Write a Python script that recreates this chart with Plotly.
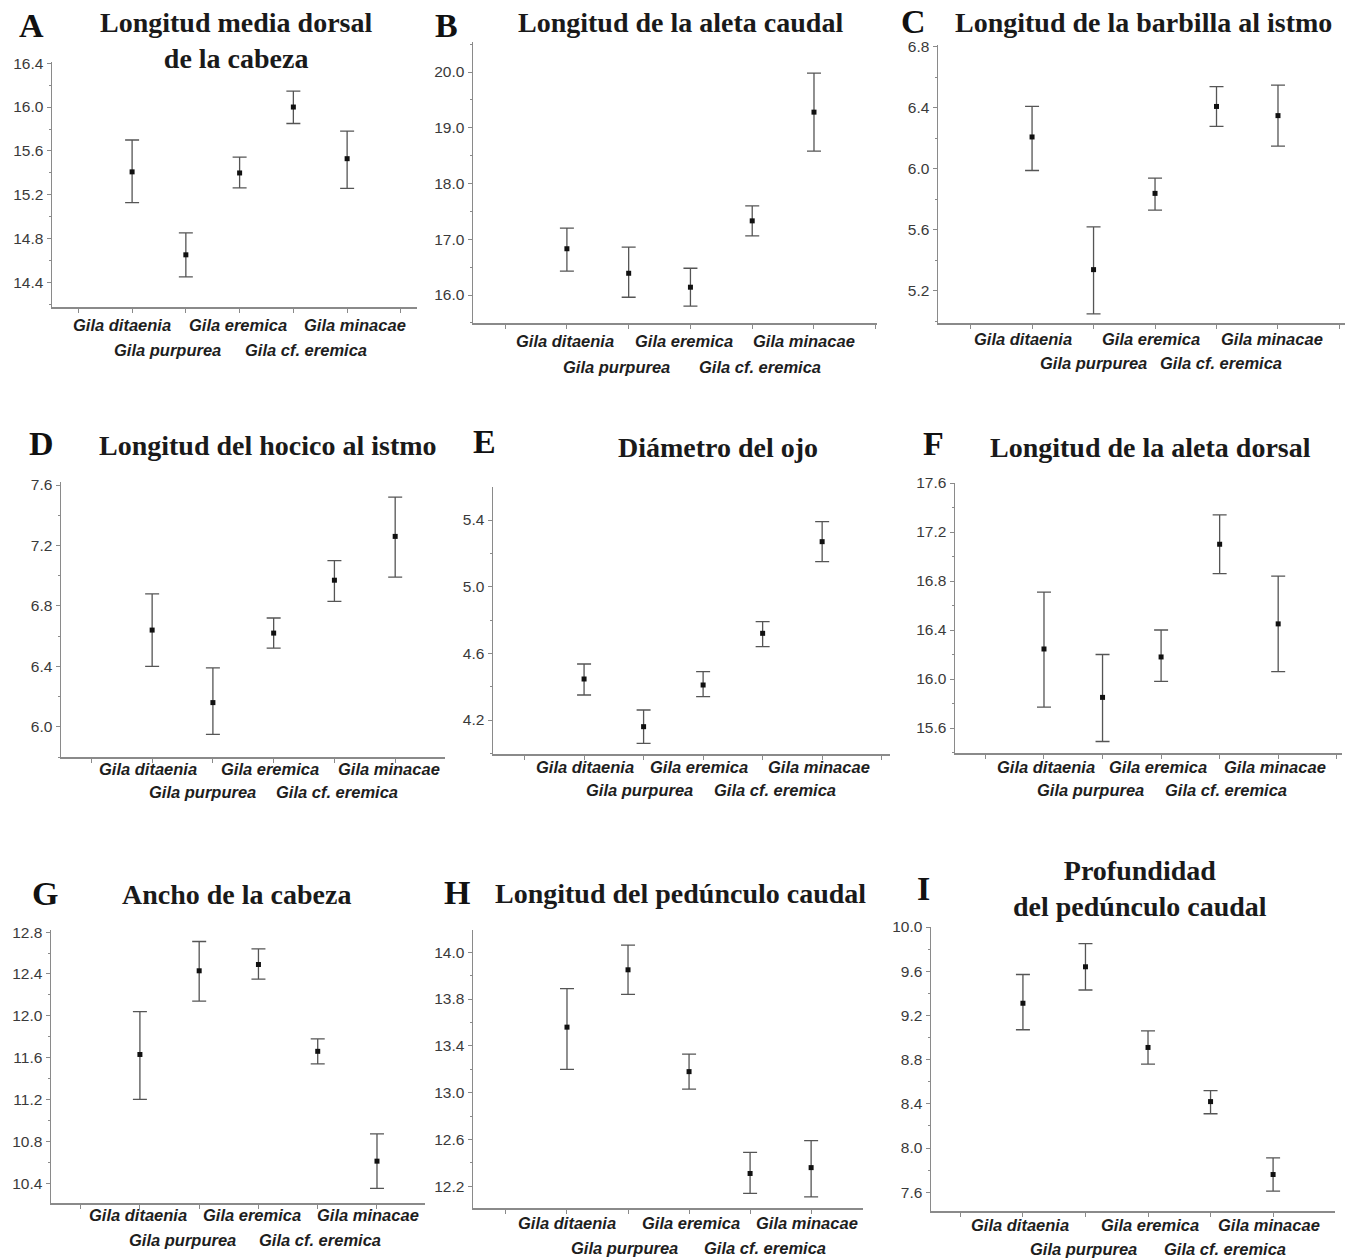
import plotly.graph_objects as go

W, H = 1352, 1260
OFF = 0  # page body margin is removed by the post script

categories = ["Gila ditaenia", "Gila purpurea", "Gila eremica", "Gila cf. eremica", "Gila minacae"]

# Panel data: means, upper and lower limits of the intervals
A_mean = [15.41, 14.655, 15.40, 16.00, 15.53]
A_upper = [15.70, 14.855, 15.545, 16.145, 15.78]
A_lower = [15.13, 14.455, 15.265, 15.85, 15.26]

B_mean = [16.83, 16.39, 16.14, 17.33, 19.28]
B_upper = [17.20, 16.86, 16.48, 17.60, 19.98]
B_lower = [16.43, 15.96, 15.80, 17.06, 18.58]

C_mean = [6.21, 5.34, 5.84, 6.41, 6.35]
C_upper = [6.41, 5.62, 5.94, 6.54, 6.55]
C_lower = [5.99, 5.05, 5.73, 6.28, 6.15]

D_mean = [6.64, 6.16, 6.62, 6.97, 7.26]
D_upper = [6.88, 6.39, 6.72, 7.10, 7.52]
D_lower = [6.40, 5.95, 6.52, 6.83, 6.99]

E_mean = [4.446, 4.16, 4.41, 4.72, 5.27]
E_upper = [4.536, 4.26, 4.49, 4.79, 5.39]
E_lower = [4.35, 4.06, 4.34, 4.64, 5.15]

F_mean = [16.245, 15.85, 16.18, 17.10, 16.45]
F_upper = [16.71, 16.20, 16.40, 17.34, 16.84]
F_lower = [15.77, 15.49, 15.98, 16.86, 16.06]

G_mean = [11.63, 12.43, 12.49, 11.66, 10.61]
G_upper = [12.04, 12.71, 12.64, 11.78, 10.87]
G_lower = [11.20, 12.14, 12.35, 11.54, 10.35]

H_mean = [13.56, 14.05, 13.18, 12.31, 12.36]
H_upper = [13.89, 14.26, 13.33, 12.49, 12.59]
H_lower = [13.20, 13.84, 13.03, 12.14, 12.11]

I_mean = [9.31, 9.64, 8.91, 8.42, 7.76]
I_upper = [9.57, 9.85, 9.06, 8.52, 7.91]
I_lower = [9.07, 9.43, 8.76, 8.31, 7.61]

# Tick values / labels
A_ticks = [14.4, 14.8, 15.2, 15.6, 16.0, 16.4]
B_ticks = [16.0, 17.0, 18.0, 19.0, 20.0]
C_ticks = [5.2, 5.6, 6.0, 6.4, 6.8]
D_ticks = [6.0, 6.4, 6.8, 7.2, 7.6]
E_ticks = [4.2, 4.6, 5.0, 5.4]
F_ticks = [15.6, 16.0, 16.4, 16.8, 17.2, 17.6]
G_ticks = [10.4, 10.8, 11.2, 11.6, 12.0, 12.4, 12.8]
H_ticks = [12.2, 12.6, 13.0, 13.4, 13.8, 14.2]
H_ticktext = ["12.2", "12.6", "13.0", "13.4", "13.8", "14.0"]
I_ticks = [7.6, 8.0, 8.4, 8.8, 9.2, 9.6, 10.0]

titles = {
    "A": "Longitud media dorsal<br>de la cabeza",
    "B": "Longitud de la aleta caudal",
    "C": "Longitud de la barbilla al istmo",
    "D": "Longitud del hocico al istmo",
    "E": "Diámetro del ojo",
    "F": "Longitud de la aleta dorsal",
    "G": "Ancho de la cabeza",
    "H": "Longitud del pedúnculo caudal",
    "I": "Profundidad<br>del pedúnculo caudal",
}

# Layout (pixel boxes) for each panel: left, right, top, bottom
panels = [
    dict(k="A", mean=A_mean, up=A_upper, lo=A_lower, ticks=A_ticks, tt=None, minor=0.2,
         box=(52, 417, 62, 307), yr=(14.18, 16.41), xr=(-1.49, 5.30),
         title_xy=(236, 40), letter_xy=(31, 25), lab=(18, 43),
         lshift=[-10, -18, -2, 13, 8]),
    dict(k="B", mean=B_mean, up=B_upper, lo=B_lower, ticks=B_ticks, tt=None, minor=0.5,
         box=(473, 877, 42, 323), yr=(15.498, 20.538), xr=(-1.52, 5.02),
         title_xy=(680, 22), letter_xy=(446, 25), lab=(18, 44),
         lshift=[-2, -12, -6, 8, -10]),
    dict(k="C", mean=C_mean, up=C_upper, lo=C_lower, ticks=C_ticks, tt=None, minor=0.2,
         box=(938, 1345, 45, 323), yr=(4.99, 6.813), xr=(-1.53, 5.09),
         title_xy=(1143, 22), letter_xy=(914, 21), lab=(16, 40),
         lshift=[-9, 0, -4, 4, -6]),
    dict(k="D", mean=D_mean, up=D_upper, lo=D_lower, ticks=D_ticks, tt=None, minor=0.2,
         box=(61, 445, 482, 757), yr=(5.80, 7.62), xr=(-1.50, 4.82),
         title_xy=(268, 445), letter_xy=(41, 443), lab=(12, 35),
         lshift=[-4, -10, -4, 3, -6]),
    dict(k="E", mean=E_mean, up=E_upper, lo=E_lower, ticks=E_ticks, tt=None, minor=0.2,
         box=(493, 890, 487, 754), yr=(3.996, 5.598), xr=(-1.53, 5.14),
         title_xy=(718, 447), letter_xy=(485, 441), lab=(13, 36),
         lshift=[1, -4, -4, 12, -3]),
    dict(k="F", mean=F_mean, up=F_upper, lo=F_lower, ticks=F_ticks, tt=None, minor=0.2,
         box=(955, 1342, 483, 753), yr=(15.396, 17.60), xr=(-1.52, 5.09),
         title_xy=(1150, 447), letter_xy=(933, 443), lab=(14, 37),
         lshift=[2, -12, -3, 6, -3]),
    dict(k="G", mean=G_mean, up=G_upper, lo=G_lower, ticks=G_ticks, tt=None, minor=0.2,
         box=(51, 425, 930, 1203), yr=(10.21, 12.82), xr=(-1.50, 4.81),
         title_xy=(236, 894), letter_xy=(45, 893), lab=(12, 37),
         lshift=[-2, -17, -6, 2, -9]),
    dict(k="H", mean=H_mean, up=H_upper, lo=H_lower, ticks=H_ticks, tt=H_ticktext, minor=0.2,
         box=(473, 863, 930, 1208), yr=(12.015, 14.39), xr=(-1.54, 4.85),
         title_xy=(680, 893), letter_xy=(457, 892), lab=(15, 40),
         lshift=[0, -4, 2, 15, -4]),
    dict(k="I", mean=I_mean, up=I_upper, lo=I_lower, ticks=I_ticks, tt=None, minor=0.2,
         box=(931, 1335, 927, 1211), yr=(7.43, 10.0), xr=(-1.47, 4.99),
         title_xy=(1140, 888), letter_xy=(923, 888), lab=(14, 38),
         lshift=[-3, -2, 2, 14, -4]),
]


def px2x(px):
    return (px - OFF) / W


def py2y(py):
    return 1 - (py - OFF) / H


AXIS_COLOR = "#8a8a8a"
TICKFONT = dict(family="Liberation Sans, Arial, sans-serif", size=15.5, color="#3a3a3a")
CATFONT = dict(family="Liberation Sans, Arial, sans-serif", size=16.5, color="#1e1e1e")
TITLEFONT = dict(family="Liberation Serif, Times New Roman, serif", size=28, color="#1a1a1a")
LETTERFONT = dict(family="Liberation Serif, Times New Roman, serif", size=34, color="#111111")

fig = go.Figure()
layout = dict(
    width=W, height=H,
    margin=dict(l=0, r=0, t=0, b=0, autoexpand=False),
    paper_bgcolor="white", plot_bgcolor="white",
    showlegend=False,
)
annotations = []

xpos = list(range(len(categories)))

for i, p in enumerate(panels):
    n = "" if i == 0 else str(i + 1)
    xa, ya = "xaxis" + n, "yaxis" + n
    xr_, yr_ = "x" + n, "y" + n
    l, r, t, b = p["box"]
    err_plus = [u - m for u, m in zip(p["up"], p["mean"])]
    err_minus = [m - lo for m, lo in zip(p["mean"], p["lo"])]
    fig.add_trace(go.Scatter(
        x=xpos, y=p["mean"], mode="markers",
        marker=dict(symbol="square", size=5, color="#111111"),
        error_y=dict(type="data", symmetric=False, array=err_plus, arrayminus=err_minus,
                     color="#555555", thickness=1.3, width=7),
        xaxis=xr_, yaxis=yr_, hoverinfo="skip",
    ))
    layout[xa] = dict(
        domain=[px2x(l), px2x(r)], anchor=yr_, range=list(p["xr"]),
        showline=True, linecolor=AXIS_COLOR, linewidth=1.5,
        showgrid=False, zeroline=False, automargin=False,
        tickmode="array", tickvals=list(range(-1, 6)), showticklabels=False,
        ticks="outside", ticklen=4, tickcolor=AXIS_COLOR,
    )
    layout[ya] = dict(
        domain=[py2y(b), py2y(t)], anchor=xr_, range=list(p["yr"]),
        showline=True, linecolor=AXIS_COLOR, linewidth=1.5,
        showgrid=False, zeroline=False, automargin=False,
        tickmode="array", tickvals=p["ticks"],
        ticktext=p["tt"] if p["tt"] else ["%.1f" % v for v in p["ticks"]],
        ticks="outside", ticklen=4, tickcolor=AXIS_COLOR, tickfont=TICKFONT,
        minor=dict(ticks="outside", ticklen=2, tickcolor=AXIS_COLOR,
                   tick0=p["ticks"][0], dtick=p["minor"], showgrid=False),
    )

    # category labels in two staggered rows
    for j, c in enumerate(categories):
        shift = p["lab"][0] if j % 2 == 0 else p["lab"][1]
        annotations.append(dict(
            text="<b><i>%s</i></b>" % c, x=j, y=0, xref=xr_, yref=yr_ + " domain",
            xanchor="center", yanchor="middle", yshift=-shift, xshift=p["lshift"][j],
            showarrow=False, font=CATFONT,
        ))
    # title and letter
    tx, ty = p["title_xy"]
    annotations.append(dict(
        text="<b>%s</b>" % titles[p["k"]], x=px2x(tx), y=py2y(ty), xref="paper", yref="paper",
        xanchor="center", yanchor="middle", showarrow=False, font=TITLEFONT,
    ))
    lx, ly = p["letter_xy"]
    annotations.append(dict(
        text="<b>%s</b>" % p["k"], x=px2x(lx), y=py2y(ly), xref="paper", yref="paper",
        xanchor="center", yanchor="middle", showarrow=False, font=LETTERFONT,
    ))

layout["annotations"] = annotations
fig.update_layout(**layout)
fig.write_html("out.html", config={"displayModeBar": False, "staticPlot": True},
               post_script="document.body.style.margin='0';")
